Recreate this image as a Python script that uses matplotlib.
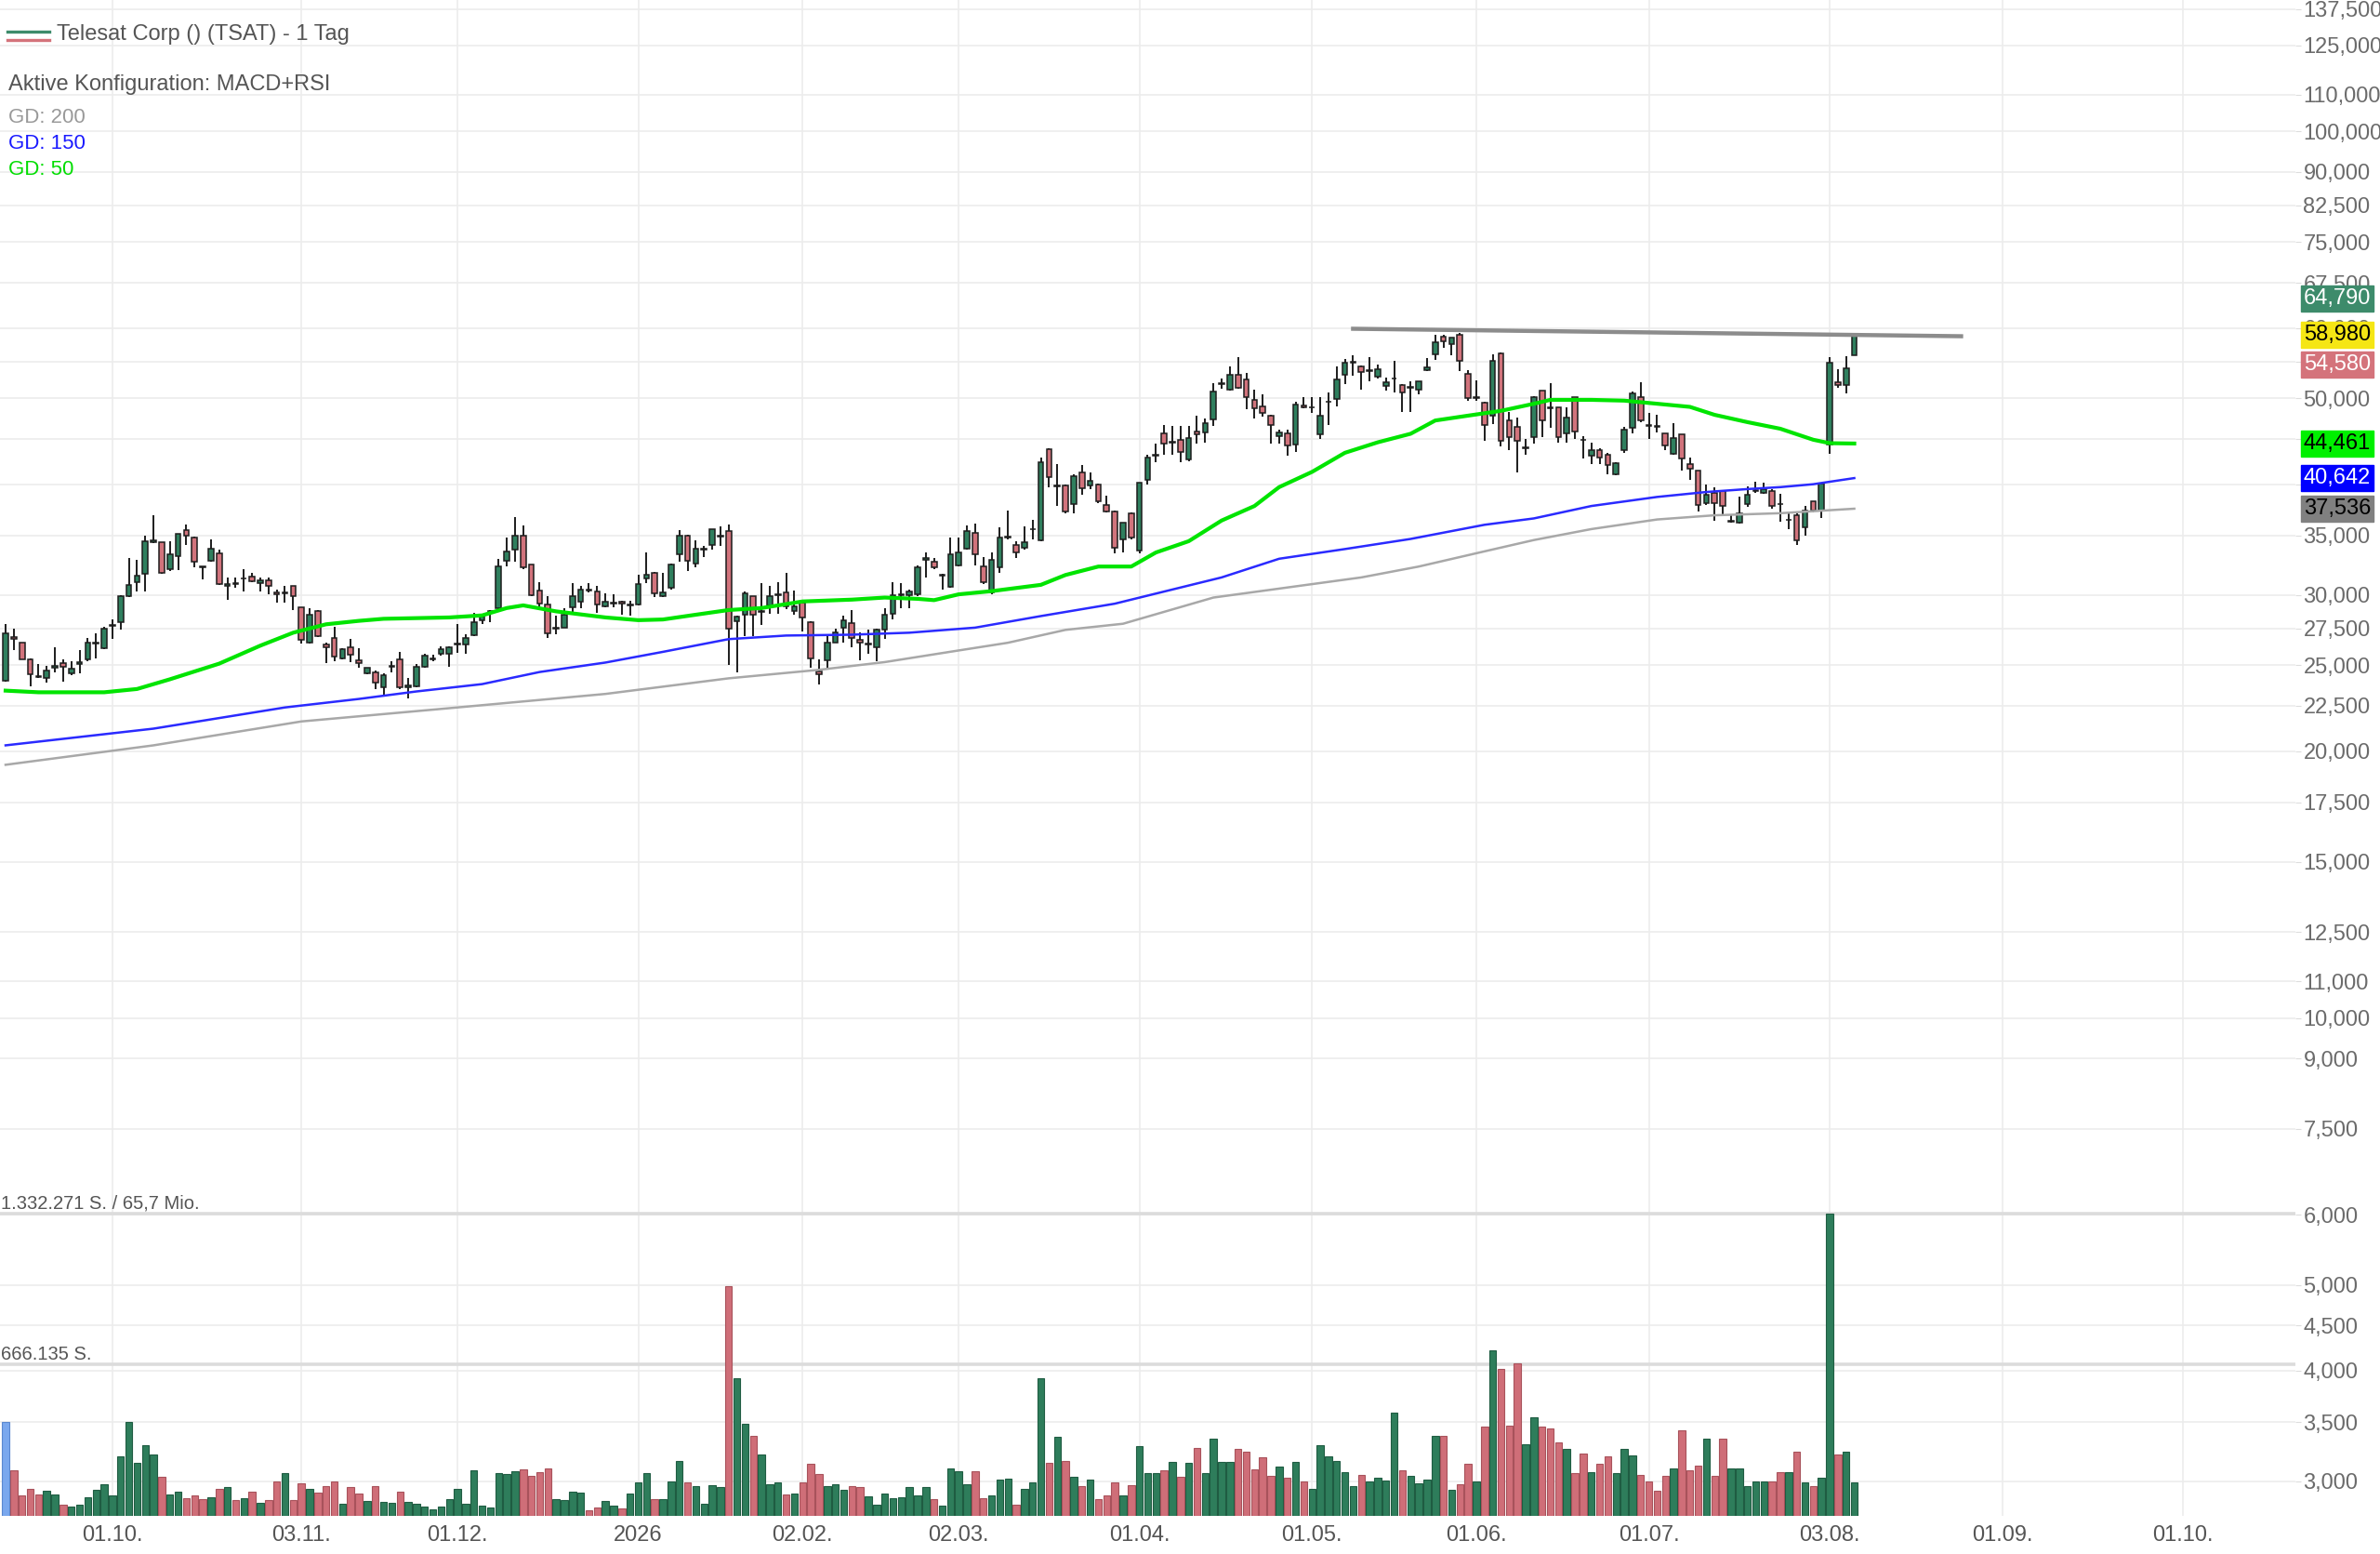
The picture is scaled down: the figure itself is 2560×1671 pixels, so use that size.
import matplotlib
matplotlib.use('Agg')
import matplotlib.pyplot as plt
import matplotlib.transforms as mtransforms
from matplotlib.lines import Line2D
from matplotlib.ticker import NullLocator
import numpy as np
import pandas as pd

plt.rcParams['font.family'] = ['Liberation Sans', 'DejaVu Sans']

# trading calendar (US exchange holidays inside the shown range)
START = '2025-09-12'
LAST = '2026-08-06'
HOLIDAYS = ['2025-11-27', '2025-12-25', '2026-01-01', '2026-01-19', '2026-02-16',
            '2026-04-03', '2026-05-25', '2026-06-19', '2026-07-03']

OPEN = [
    24.03, 26.91, 26.48, 25.41, 24.30, 24.16, 24.86, 25.11, 24.46, 25.10,
    25.41, 26.45, 26.14, 27.70, 27.95, 29.88, 31.04, 31.67, 34.37, 34.37,
    32.06, 33.21, 35.54, 34.84, 32.30, 32.79, 33.44, 30.73, 30.90, 31.30,
    31.48, 30.97, 31.16, 30.23, 30.15, 30.68, 29.03, 26.48, 28.80, 26.35,
    26.80, 25.47, 26.16, 25.31, 24.46, 24.56, 23.59, 24.90, 25.41, 23.59,
    23.65, 24.90, 25.40, 25.72, 25.72, 26.40, 26.37, 27.02, 28.06, 28.70,
    28.99, 32.79, 33.78, 34.97, 32.44, 30.35, 29.24, 27.50, 27.56, 29.07,
    29.45, 30.42, 30.25, 29.15, 29.36, 29.45, 29.22, 29.24, 31.31, 31.80,
    29.88, 30.54, 33.38, 35.03, 32.55, 33.75, 34.19, 34.90, 35.41, 28.00,
    28.52, 29.88, 28.70, 29.22, 30.00, 30.23, 28.80, 29.38, 27.95, 24.60,
    25.31, 26.52, 27.56, 27.91, 26.67, 26.40, 26.20, 27.39, 28.60, 30.00,
    30.00, 30.05, 32.90, 32.73, 31.55, 30.62, 32.38, 33.86, 35.28, 32.33,
    30.17, 32.24, 34.80, 34.19, 33.91, 35.56, 34.60, 43.80, 39.80, 39.86,
    37.95, 41.20, 39.86, 40.00, 37.86, 37.30, 34.70, 37.10, 33.70, 40.50,
    43.10, 45.70, 44.60, 44.90, 42.70, 45.90, 45.80, 47.30, 51.90, 51.10,
    53.20, 52.50, 49.80, 49.00, 47.80, 45.30, 45.60, 44.30, 49.10, 48.80,
    45.50, 49.50, 49.90, 53.20, 54.90, 54.30, 53.70, 52.90, 51.60, 52.60,
    51.80, 51.40, 51.10, 53.80, 56.00, 58.70, 57.60, 59.00, 53.30, 50.00,
    49.40, 47.80, 56.20, 47.20, 46.40, 43.90, 45.20, 51.00, 48.90, 48.90,
    45.60, 50.20, 44.90, 43.10, 43.70, 43.20, 41.00, 43.70, 46.30, 50.20,
    46.60, 46.50, 45.70, 43.30, 45.50, 42.20, 41.40, 38.10, 39.10, 39.30,
    36.30, 36.20, 38.00, 39.30, 39.10, 39.30, 38.00, 36.45, 36.90, 35.80,
    38.30, 37.40, 44.30, 52.10, 51.80, 55.90,
]
HIGH = [
    27.84, 27.50, 26.52, 25.45, 25.07, 24.96, 26.20, 25.37, 25.27, 25.99,
    26.80, 27.17, 27.61, 28.17, 29.98, 33.05, 32.87, 35.03, 36.91, 34.40,
    34.46, 35.17, 36.03, 34.90, 32.30, 34.64, 33.78, 31.42, 31.42, 32.06,
    31.80, 31.42, 31.38, 30.42, 30.73, 30.73, 29.05, 28.99, 28.87, 26.52,
    27.61, 26.14, 26.74, 26.10, 24.86, 24.66, 24.50, 25.27, 25.89, 24.16,
    25.07, 25.78, 25.68, 26.26, 26.26, 27.84, 27.06, 28.63, 28.40, 28.87,
    32.95, 34.84, 36.72, 35.98, 32.50, 31.04, 29.93, 28.40, 28.99, 30.97,
    30.68, 30.97, 30.68, 30.10, 30.05, 29.57, 29.57, 31.61, 33.52, 31.88,
    31.80, 32.57, 35.54, 35.10, 34.54, 34.10, 35.60, 35.85, 36.03, 28.40,
    30.30, 29.93, 30.97, 30.68, 31.04, 31.80, 30.35, 29.57, 27.99, 25.37,
    27.06, 27.50, 28.40, 28.87, 27.21, 27.39, 27.50, 28.99, 31.04, 30.97,
    30.42, 32.40, 33.52, 33.00, 31.67, 34.84, 34.84, 35.98, 36.08, 33.13,
    33.47, 35.74, 37.35, 34.46, 35.88, 36.47, 42.85, 43.90, 42.20, 40.00,
    41.00, 42.00, 41.20, 40.10, 38.80, 37.40, 36.20, 37.20, 40.20, 43.20,
    44.40, 46.60, 46.50, 46.50, 46.50, 47.80, 47.50, 52.00, 52.60, 54.30,
    55.60, 53.40, 51.10, 50.50, 47.90, 46.10, 46.10, 49.50, 50.20, 50.10,
    50.20, 50.80, 54.30, 55.40, 55.90, 54.40, 55.60, 54.60, 52.80, 55.10,
    51.90, 52.20, 52.30, 55.50, 58.90, 59.00, 58.60, 59.20, 53.80, 52.40,
    49.50, 56.10, 56.30, 48.20, 47.60, 45.00, 50.30, 51.00, 52.00, 48.90,
    48.90, 50.20, 45.30, 44.60, 43.90, 43.40, 42.40, 46.40, 50.90, 52.10,
    48.10, 47.90, 45.70, 46.90, 45.50, 42.90, 41.40, 40.00, 39.70, 39.40,
    36.90, 38.70, 39.80, 40.30, 40.20, 39.50, 39.00, 37.20, 37.10, 37.80,
    38.30, 40.20, 55.70, 53.90, 55.80, 58.90,
]
LOW = [
    23.97, 25.99, 25.37, 23.69, 24.16, 23.88, 24.56, 23.97, 24.36, 24.46,
    25.27, 25.47, 26.06, 26.74, 27.39, 29.81, 30.30, 30.30, 34.30, 31.73,
    31.95, 31.99, 34.19, 32.24, 31.24, 32.73, 30.80, 29.64, 30.54, 30.30,
    31.04, 30.30, 30.05, 29.40, 29.40, 28.87, 26.42, 26.42, 26.91, 25.11,
    25.23, 25.37, 25.17, 24.86, 24.40, 23.50, 23.04, 24.56, 23.50, 22.95,
    23.59, 24.86, 25.27, 25.64, 24.90, 25.80, 25.72, 26.95, 27.84, 27.95,
    28.87, 32.30, 32.73, 32.06, 29.88, 29.05, 26.85, 27.06, 27.56, 28.63,
    28.99, 30.17, 28.63, 29.05, 29.05, 28.52, 28.40, 29.20, 30.92, 29.81,
    29.81, 30.42, 32.73, 31.92, 32.20, 33.10, 33.78, 34.05, 25.02, 24.56,
    26.95, 26.99, 27.73, 28.57, 28.57, 28.95, 28.52, 27.28, 24.86, 23.78,
    24.76, 26.48, 26.52, 26.20, 25.31, 25.78, 25.27, 26.74, 28.17, 28.99,
    28.99, 29.93, 31.42, 32.06, 30.42, 30.54, 32.30, 33.78, 32.38, 30.87,
    30.05, 31.80, 34.68, 33.05, 33.78, 34.62, 34.50, 39.70, 37.80, 37.10,
    37.10, 38.90, 39.50, 38.10, 37.20, 33.40, 33.50, 34.70, 33.40, 40.00,
    42.40, 43.20, 43.20, 42.40, 42.50, 44.40, 44.60, 46.50, 51.20, 51.00,
    51.30, 48.60, 47.50, 47.70, 44.40, 44.40, 43.10, 43.50, 48.70, 48.15,
    45.00, 46.60, 49.00, 51.90, 53.00, 51.10, 52.30, 52.70, 51.00, 50.80,
    48.30, 48.30, 50.50, 53.70, 55.20, 57.00, 55.90, 53.70, 49.70, 49.70,
    44.80, 46.80, 44.10, 43.70, 41.20, 43.20, 44.40, 45.20, 46.30, 44.60,
    44.60, 45.00, 42.80, 42.10, 42.20, 41.00, 40.90, 43.40, 45.70, 47.00,
    45.00, 45.80, 43.70, 43.20, 41.40, 40.50, 37.30, 37.90, 36.40, 36.80,
    36.20, 36.10, 37.70, 39.10, 39.00, 37.50, 36.30, 35.60, 34.20, 35.00,
    37.20, 36.60, 43.30, 51.40, 50.60, 56.00,
]
CLOSE = [
    27.17, 26.74, 25.41, 24.40, 24.26, 24.66, 24.96, 24.90, 24.76, 25.17,
    26.48, 26.48, 27.50, 27.73, 29.93, 30.80, 31.55, 34.46, 34.55, 31.80,
    33.31, 35.17, 35.03, 32.68, 32.27, 33.83, 30.87, 30.87, 30.87, 31.31,
    31.11, 31.16, 30.68, 30.03, 30.17, 29.88, 26.70, 28.52, 26.95, 26.18,
    25.58, 26.04, 25.68, 25.11, 24.86, 23.92, 24.36, 24.92, 23.59, 23.73,
    24.90, 25.62, 25.43, 26.06, 26.16, 26.46, 26.85, 27.95, 28.33, 28.75,
    32.30, 33.58, 35.03, 32.24, 30.00, 29.34, 27.17, 27.56, 28.47, 29.88,
    30.42, 30.32, 29.29, 29.45, 29.40, 29.34, 29.24, 30.87, 31.61, 30.12,
    30.23, 32.50, 34.97, 32.79, 33.83, 33.78, 35.60, 34.97, 27.50, 28.33,
    30.12, 28.52, 28.72, 29.88, 30.05, 29.15, 29.15, 28.28, 25.43, 24.40,
    26.48, 27.23, 28.06, 26.85, 26.52, 26.42, 27.39, 28.52, 30.00, 30.05,
    30.30, 32.24, 33.00, 32.20, 31.58, 33.31, 33.47, 35.41, 33.31, 31.04,
    32.84, 34.84, 34.90, 33.47, 34.37, 35.60, 42.34, 40.70, 39.90, 37.30,
    40.80, 39.60, 40.40, 38.30, 37.30, 33.90, 36.20, 34.80, 40.20, 42.90,
    43.20, 44.40, 44.70, 43.50, 45.10, 45.50, 46.90, 50.90, 52.00, 53.20,
    51.40, 50.10, 48.70, 48.10, 46.60, 45.80, 44.20, 49.20, 48.80, 48.90,
    47.80, 49.60, 52.50, 54.80, 54.90, 53.60, 53.80, 53.90, 52.10, 52.70,
    50.80, 51.40, 52.20, 54.20, 57.90, 58.00, 58.60, 55.10, 50.00, 50.10,
    46.70, 55.10, 44.80, 45.20, 44.80, 44.00, 50.20, 47.20, 48.70, 45.20,
    47.60, 45.90, 44.85, 43.70, 42.90, 42.00, 42.30, 46.10, 50.70, 47.20,
    46.50, 46.45, 44.20, 45.10, 42.80, 41.60, 37.90, 38.90, 38.10, 37.80,
    36.30, 37.10, 38.90, 39.30, 39.50, 37.80, 37.95, 36.50, 34.60, 37.40,
    37.40, 40.10, 54.80, 51.80, 54.10, 58.80,
]
# daily volume in thousand shares
VOLUME_K = [
    413, 201, 92, 119, 96, 112, 96, 51, 41, 48,
    82, 115, 139, 89, 264, 413, 232, 311, 270, 171,
    96, 105, 78, 89, 75, 82, 120, 126, 68, 79,
    105, 59, 68, 153, 189, 68, 143, 119, 102, 130,
    153, 55, 127, 98, 64, 132, 61, 57, 105, 61,
    52, 41, 30, 41, 75, 119, 55, 202, 45, 37,
    187, 184, 198, 205, 175, 194, 208, 75, 71, 105,
    102, 23, 37, 64, 45, 34, 98, 148, 187, 72,
    75, 153, 242, 148, 132, 55, 137, 126, 1011, 605,
    407, 352, 269, 139, 148, 96, 100, 148, 228, 184,
    130, 139, 116, 132, 127, 86, 51, 98, 78, 82,
    126, 89, 126, 75, 45, 209, 195, 139, 195, 79,
    92, 160, 164, 48, 120, 148, 605, 232, 348, 243,
    174, 132, 161, 75, 89, 146, 92, 137, 307, 187,
    189, 201, 236, 174, 232, 300, 189, 339, 239, 236,
    296, 283, 205, 257, 178, 216, 168, 236, 153, 120,
    311, 262, 243, 194, 132, 180, 153, 167, 154, 454,
    201, 175, 143, 161, 351, 352, 113, 139, 229, 153,
    393, 731, 646, 396, 672, 317, 434, 393, 386, 325,
    294, 189, 276, 191, 229, 262, 187, 294, 266, 180,
    153, 112, 175, 209, 379, 202, 221, 342, 175, 342,
    209, 209, 132, 153, 153, 150, 194, 194, 283, 148,
    132, 167, 1332.271, 270, 283, 148,
]
VOL_MAX = 1332271
VOL_HALF = 666135

# moving averages (bar number, value)
GD50_POS = [0, 4, 12, 16, 20, 26, 31, 35, 39, 43, 46, 54, 58, 61, 63, 67, 73, 77, 80, 84,
            88, 92, 97, 103, 107, 111, 113, 116, 120, 126, 129, 133, 137, 140, 144, 148,
            152, 155, 159, 163, 167, 171, 174, 178, 182, 186, 188, 193, 197, 201, 205,
            208, 212, 216, 220, 222, 225]
GD50_VAL = [23.4, 23.3, 23.3, 23.5, 24.1, 25.1, 26.3, 27.2, 27.8, 28.05, 28.2, 28.3, 28.45,
            29.0, 29.2, 28.75, 28.3, 28.1, 28.15, 28.5, 28.85, 29.0, 29.5, 29.64, 29.8, 29.7,
            29.6, 30.05, 30.3, 30.8, 31.6, 32.3, 32.3, 33.5, 34.5, 36.4, 37.8, 39.7, 41.3,
            43.4, 44.6, 45.6, 47.2, 47.8, 48.4, 49.3, 49.8, 49.8, 49.7, 49.3, 48.9, 47.9,
            47.0, 46.2, 44.9, 44.5, 44.461]
GD150_POS = [0, 18, 34, 43, 50, 58, 65, 73, 80, 88, 95, 103, 110, 118, 126, 135, 148, 155,
             163, 171, 180, 186, 193, 201, 207, 212, 216, 220, 225]
GD150_VAL = [20.3, 21.2, 22.4, 22.9, 23.35, 23.8, 24.56, 25.17, 25.88, 26.75, 27.0, 27.06,
             27.2, 27.56, 28.4, 29.33, 31.4, 32.96, 33.8, 34.7, 36.0, 36.6, 37.8, 38.7, 39.2,
             39.5, 39.7, 40.0, 40.642]
GD200_POS = [0, 18, 36, 55, 73, 88, 99, 107, 114, 122, 129, 136, 147, 165, 172, 180, 186,
             193, 201, 208, 216, 225]
GD200_VAL = [19.3, 20.3, 21.6, 22.4, 23.2, 24.16, 24.7, 25.2, 25.8, 26.5, 27.4, 27.84, 29.8,
             31.4, 32.3, 33.6, 34.6, 35.6, 36.5, 36.9, 37.1, 37.536]

TREND_POS = [164, 238]
TREND_VAL = [59.9, 58.75]

PRICE_TICKS = [137.5, 125, 110, 100, 90, 82.5, 75, 67.5, 60, 55, 50, 45, 40, 35, 30, 27.5,
               25, 22.5, 20, 17.5, 15, 12.5, 11, 10, 9, 7.5, 6, 5, 4.5, 4, 3.5, 3]
# scale labels that sit completely under a price badge
HIDDEN_TICKS = [45, 40]
XTICK_DATES = ['2025-10-01', '2025-11-03', '2025-12-01', '2026-01-02', '2026-02-02',
               '2026-03-02', '2026-04-01', '2026-05-01', '2026-06-01', '2026-07-01',
               '2026-08-03', '2026-09-01', '2026-10-01']
XTICK_LABELS = ['01.10.', '03.11.', '01.12.', '2026', '02.02.', '02.03.', '01.04.',
                '01.05.', '01.06.', '01.07.', '03.08.', '01.09.', '01.10.']

BADGES = [(64.790, '#3d8b6b', 'white'), (58.980, '#f5e614', 'black'),
          (54.580, '#d4737b', 'white'), (44.461, '#00f000', 'black'),
          (40.642, '#0000ff', 'white'), (37.536, '#808080', 'black')]

GREEN = '#2f7f5e'
RED = '#d1737c'


def de_num(v):
    return f'{v:,.3f}'.replace(',', ' ').replace('.', ',').replace(' ', '.')


hist = pd.bdate_range(START, LAST, freq='C', holidays=HOLIDAYS)
future = pd.bdate_range('2026-08-07', '2026-11-30')
days = hist.append(future)
assert len(hist) == len(OPEN)

o = np.array(OPEN)
h = np.array(HIGH)
l = np.array(LOW)
c = np.array(CLOSE)
vol = np.array(VOLUME_K) * 1000
x = np.arange(len(o))
up = c >= o

fig = plt.figure(figsize=(25.6, 16.71), dpi=100)
ax = fig.add_axes([0, 0.0245, 0.9645, 0.9755])
ax2 = ax.twinx()

# price panel
ax.set_yscale('log')
ax.set_ylim(2.743, 140.7)
ax.set_xlim(-0.68, 278.7)
ax.set_axisbelow(True)

ax.vlines(x, l, h, color='#1c1c1c', lw=1.4, zorder=3)
body_lo = np.minimum(o, c)
body_h = np.maximum(np.abs(c - o), 0.05)
ax.bar(x, body_h, bottom=body_lo, width=0.64, color=np.where(up, GREEN, RED),
       edgecolor='#1c1c1c', linewidth=1.1, zorder=4)

ax.plot(GD200_POS, GD200_VAL, color='#a8a8a8', lw=1.8, zorder=5)
ax.plot(GD150_POS, GD150_VAL, color='#2a2aff', lw=1.8, zorder=5)
ax.plot(GD50_POS, GD50_VAL, color='#00e400', lw=3.0, zorder=5)
ax.plot(TREND_POS, TREND_VAL, color='#8c8c8c', lw=3.2, zorder=6)

ax.yaxis.tick_right()
ax.yaxis.set_label_position('right')
ax.set_yticks(PRICE_TICKS)
ax.set_yticklabels(['' if v in HIDDEN_TICKS else de_num(v) for v in PRICE_TICKS])
ax.yaxis.set_minor_locator(NullLocator())
ax.tick_params(axis='y', which='major', direction='out', length=4, color='#dddddd',
               labelsize=17, labelcolor='#6b6b6b', pad=2, right=True, left=False,
               labelright=True, labelleft=False)

xt = [days.get_loc(pd.Timestamp(d)) for d in XTICK_DATES]
ax.set_xticks(xt)
ax.set_xticklabels(XTICK_LABELS)
ax.tick_params(axis='x', length=0, labelsize=17, labelcolor='#555555', pad=7)
ax.grid(True, color='#ececec', lw=1.2)
for s in ax.spines.values():
    s.set_visible(False)

# badges on the right price scale
blend = mtransforms.blended_transform_factory(ax.transAxes, ax.transData)
for val, bg, fg in BADGES:
    ax.text(1.0035, val, de_num(val), transform=blend, ha='left', va='center',
            fontsize=17, color=fg, clip_on=False, zorder=10,
            bbox=dict(boxstyle='square,pad=0.12', fc=bg, ec=bg))

# volume panel
ax2.set_ylim(0, VOL_MAX * 997 / 199)
ax2.set_axis_off()
vcol = np.where(up, '#2e7d5b', '#cf6e78')
vedge = np.where(up, '#1f5c42', '#a8525b')
vcol[0] = '#7aa8ee'
vedge[0] = '#5a88d0'
ax2.bar(x, vol, width=0.84, color=vcol, edgecolor=vedge, linewidth=0.8, zorder=3)
ax2.axhline(VOL_MAX, color='#dcdcdc', lw=2.6, zorder=1)
ax2.axhline(VOL_HALF, color='#dcdcdc', lw=2.6, zorder=1)
vblend = mtransforms.blended_transform_factory(ax2.transAxes, ax2.transData)
ax2.text(0.0006, VOL_MAX * 1.004, '1.332.271 S. / 65,7 Mio.', transform=vblend,
         ha='left', va='bottom', fontsize=14.5, color='#555555')
ax2.text(0.0006, VOL_HALF * 1.008, '666.135 S.', transform=vblend,
         ha='left', va='bottom', fontsize=14.5, color='#555555')

# header texts
fig.add_artist(Line2D([8 / 2560, 53 / 2560], [1 - 34 / 1671] * 2, color='#3d8b6b', lw=2.4))
fig.add_artist(Line2D([8 / 2560, 53 / 2560], [1 - 43 / 1671] * 2, color='#d4737b', lw=2.4))
fig.text(61 / 2560, 1 - 37 / 1671, 'Telesat Corp () (TSAT) - 1 Tag', fontsize=17,
         color='#555555', va='center', ha='left')
fig.text(9 / 2560, 1 - 91 / 1671, 'Aktive Konfiguration: MACD+RSI', fontsize=17,
         color='#555555', va='center', ha='left')
fig.text(9 / 2560, 1 - 126 / 1671, 'GD: 200', fontsize=16, color='#999999', va='center')
fig.text(9 / 2560, 1 - 154 / 1671, 'GD: 150', fontsize=16, color='#1a1aff', va='center')
fig.text(9 / 2560, 1 - 182 / 1671, 'GD: 50', fontsize=16, color='#00dd00', va='center')

fig.savefig('out.png', dpi=100, facecolor='white')
